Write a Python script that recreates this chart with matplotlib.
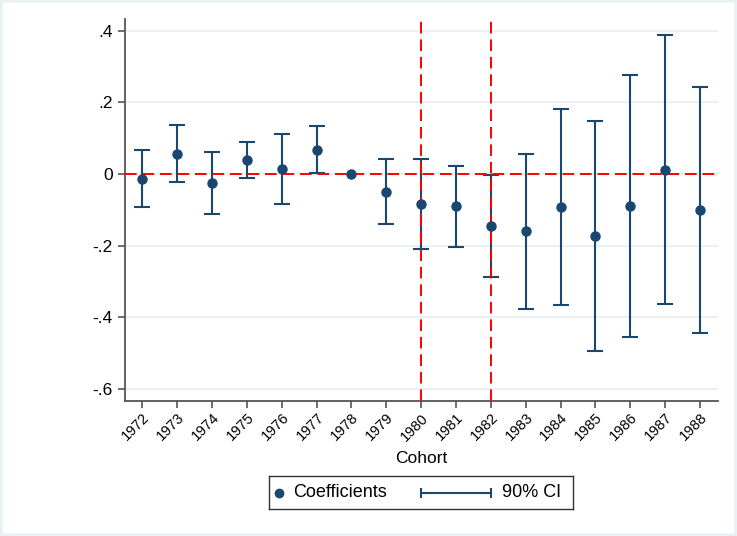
import matplotlib
matplotlib.use("Agg")
import matplotlib.pyplot as plt
from matplotlib.patches import Rectangle
from matplotlib.lines import Line2D

plt.rcParams['font.family'] = ['Liberation Sans', 'DejaVu Sans']

cohorts = [1972, 1973, 1974, 1975, 1976, 1977, 1978, 1979, 1980,
           1981, 1982, 1983, 1984, 1985, 1986, 1987, 1988]
coef = [-0.014, 0.057, -0.025, 0.038, 0.013, 0.068, 0.0, -0.049, -0.085,
        -0.090, -0.146, -0.159, -0.092, -0.172, -0.089, 0.011, -0.101]
ci_low = [-0.093, -0.023, -0.112, -0.011, -0.084, 0.003, None, -0.139, -0.210,
          -0.203, -0.288, -0.376, -0.366, -0.493, -0.455, -0.363, -0.445]
ci_high = [0.067, 0.138, 0.062, 0.089, 0.111, 0.134, None, 0.042, 0.042,
           0.023, -0.002, 0.056, 0.182, 0.149, 0.277, 0.387, 0.243]
yticks = [-0.6, -0.4, -0.2, 0.0, 0.2, 0.4]
ytick_labels = ['-.6', '-.4', '-.2', '0', '.2', '.4']
vlines = [1980, 1982]

navy = '#1a476f'
W, H = 737, 536
fig = plt.figure(figsize=(W / 100, H / 100), dpi=100)
fig.patch.set_facecolor('white')
fig.add_artist(Rectangle((0, 0), 1, 1, transform=fig.transFigure,
                         fill=False, edgecolor='#eaf1f3', linewidth=4))

ax = fig.add_axes([125 / W, 1 - 401 / H, (718 - 125) / W, (401 - 19) / H])
ax.set_facecolor('white')

# error bars
ex = [c for c, l in zip(cohorts, ci_low) if l is not None]
elo = [l for l in ci_low if l is not None]
ehi = [h for h in ci_high if h is not None]
emid = [(l + h) / 2 for l, h in zip(elo, ehi)]
ehalf = [(h - l) / 2 for l, h in zip(elo, ehi)]
ax.errorbar(ex, emid, yerr=ehalf, fmt='none', ecolor=navy, elinewidth=1.5,
            capsize=6, capthick=1.5, zorder=2)

ax.axhline(0, color='#ff0000', linestyle=(0, (6, 3)), linewidth=1.4, zorder=3)
for v in vlines:
    ax.axvline(v, ymin=0, ymax=(401 - 21) / (401 - 19), color='#ff0000',
               linestyle=(0, (6, 3)), linewidth=1.4, zorder=3)

ax.plot(cohorts, coef, 'o', color=navy, markersize=6.5, zorder=4)

ax.set_xlim(1971.5, 1988.52)
ax.set_ylim(-0.6335, 0.4326)
ax.set_yticks(yticks)
ax.set_yticklabels(ytick_labels, fontsize=12.5)
ax.set_xticks(cohorts)
ax.set_xticklabels([str(c) for c in cohorts], rotation=45, ha='right',
                   rotation_mode='anchor', fontsize=10.5)
ax.grid(axis='y', color='#eaf1f3', linewidth=1.5, zorder=0)
ax.set_axisbelow(True)
for s in ['top', 'right']:
    ax.spines[s].set_visible(False)
for s in ['left', 'bottom']:
    ax.spines[s].set_color('#555555')
    ax.spines[s].set_linewidth(1.3)
ax.tick_params(axis='both', direction='out', length=5, width=1.2,
               color='#555555', labelcolor='black')
ax.tick_params(axis='y', pad=4)
ax.tick_params(axis='x', pad=2)
ax.set_xlabel('Cohort', fontsize=12.5, labelpad=5)

# legend box built manually (Stata-style)
lx0, ly0, lx1, ly1 = 269, 476, 573, 509
lax = fig.add_axes([lx0 / W, 1 - ly1 / H, (lx1 - lx0) / W, (ly1 - ly0) / H])
lax.set_xlim(lx0, lx1)
lax.set_ylim(ly1, ly0)
lax.set_xticks([])
lax.set_yticks([])
for s in lax.spines.values():
    s.set_color('#333333')
    s.set_linewidth(1.0)
ym = (ly0 + ly1) / 2
lax.plot([279], [ym], 'o', color=navy, markersize=6)
lax.text(293, ym, 'Coefficients', fontsize=13, va='center', ha='left')
lax.add_line(Line2D([421, 491], [ym, ym], color=navy, linewidth=1.5))
lax.add_line(Line2D([421, 421], [ym - 4, ym + 4], color=navy, linewidth=1.5))
lax.add_line(Line2D([491, 491], [ym - 4, ym + 4], color=navy, linewidth=1.5))
lax.text(502, ym, '90% CI', fontsize=13, va='center', ha='left')

fig.savefig('out.png', dpi=100)
